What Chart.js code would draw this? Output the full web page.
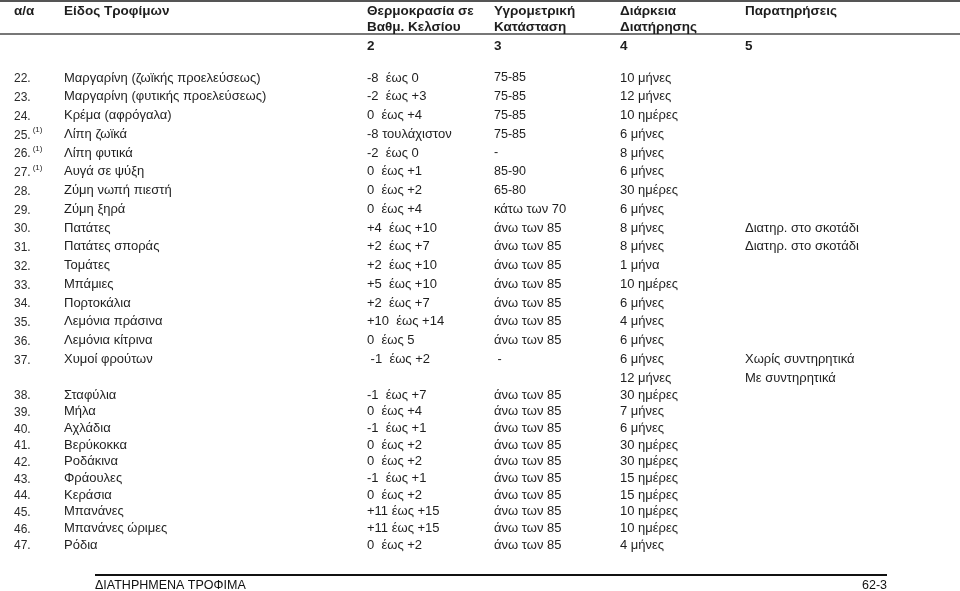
<!DOCTYPE html>
<html>
<head>
<meta charset="utf-8">
<script src="https://cdn.jsdelivr.net/npm/chart.js@4.4.1/dist/chart.umd.min.js"></script>
<style>
  html, body { margin: 0; background: #fff; }
  #wrap { width: 960px; height: 591px; }
</style>
</head>
<body>
<div id="wrap"><canvas id="table"></canvas></div>
<script>
// header texts
const headTop = ['α/α', 'Είδος Τροφίμων', 'Θερμοκρασία σε', 'Υγρομετρική', 'Διάρκεια', 'Παρατηρήσεις'];
const headBottom = ['', '', 'Βαθμ. Κελσίου', 'Κατάσταση', 'Διατήρησης', ''];
const colNumbers = ['', '', '2', '3', '4', '5'];

// table rows
const rowNums = ['22.', '23.', '24.', '25.', '26.', '27.', '28.', '29.', '30.', '31.', '32.', '33.', '34.', '35.', '36.', '37.',
  '38.', '39.', '40.', '41.', '42.', '43.', '44.', '45.', '46.', '47.'];
const rowRefs = ['', '', '', '(1)', '(1)', '(1)', '', '', '', '', '', '', '', '', '', '',
  '', '', '', '', '', '', '', '', '', ''];
const foods = ['Μαργαρίνη (ζωϊκής προελεύσεως)', 'Μαργαρίνη (φυτικής προελεύσεως)', 'Κρέμα (αφρόγαλα)', 'Λίπη ζωϊκά',
  'Λίπη φυτικά', 'Αυγά σε ψύξη', 'Ζύμη νωπή πιεστή', 'Ζύμη ξηρά', 'Πατάτες', 'Πατάτες σποράς', 'Τομάτες', 'Μπάμιες',
  'Πορτοκάλια', 'Λεμόνια πράσινα', 'Λεμόνια κίτρινα', 'Χυμοί φρούτων',
  'Σταφύλια', 'Μήλα', 'Αχλάδια', 'Βερύκοκκα', 'Ροδάκινα', 'Φράουλες', 'Κεράσια', 'Μπανάνες', 'Μπανάνες ώριμες', 'Ρόδια'];
const temps = ['-8  έως 0', '-2  έως +3', '0  έως +4', '-8 τουλάχιστον', '-2  έως 0', '0  έως +1', '0  έως +2', '0  έως +4',
  '+4  έως +10', '+2  έως +7', '+2  έως +10', '+5  έως +10', '+2  έως +7', '+10  έως +14', '0  έως 5', ' -1  έως +2',
  '-1  έως +7', '0  έως +4', '-1  έως +1', '0  έως +2', '0  έως +2', '-1  έως +1', '0  έως +2', '+11 έως +15', '+11 έως +15', '0  έως +2'];
const humidity = ['75-85', '75-85', '75-85', '75-85', '-', '85-90', '65-80', 'κάτω των 70', 'άνω των 85', 'άνω των 85',
  'άνω των 85', 'άνω των 85', 'άνω των 85', 'άνω των 85', 'άνω των 85', ' -',
  'άνω των 85', 'άνω των 85', 'άνω των 85', 'άνω των 85', 'άνω των 85', 'άνω των 85', 'άνω των 85', 'άνω των 85', 'άνω των 85', 'άνω των 85'];
const durations = ['10 μήνες', '12 μήνες', '10 ημέρες', '6 μήνες', '8 μήνες', '6 μήνες', '30 ημέρες', '6 μήνες', '8 μήνες',
  '8 μήνες', '1 μήνα', '10 ημέρες', '6 μήνες', '4 μήνες', '6 μήνες', '6 μήνες|12 μήνες',
  '30 ημέρες', '7 μήνες', '6 μήνες', '30 ημέρες', '30 ημέρες', '15 ημέρες', '15 ημέρες', '10 ημέρες', '10 ημέρες', '4 μήνες'];
const notes = ['', '', '', '', '', '', '', '', 'Διατηρ. στο σκοτάδι', 'Διατηρ. στο σκοτάδι', '', '', '', '', '', 'Χωρίς συντηρητικά|Με συντηρητικά',
  '', '', '', '', '', '', '', '', '', ''];

const footerTitle = 'ΔΙΑΤΗΡΗΜΕΝΑ ΤΡΟΦΙΜΑ';
const footerPage = '62-3';

const splitAt = 16; // rows from 38. on use the tighter second block
const colX = [14, 64, 367, 494, 620, 745];

const textColor = '#1e1e1e';
const bodyFont = '13px "Liberation Sans", Arial, sans-serif';

const tablePlugin = {
  id: 'tableText',
  afterDraw(chart) {
    const ctx = chart.ctx;
    const sx = chart.scales.x, sy = chart.scales.y, sy2 = chart.scales.y2;
    ctx.save();
    ctx.textBaseline = 'middle';

    // header rules
    ctx.fillStyle = '#555';
    ctx.fillRect(0, 0, 960, 2);
    ctx.fillStyle = '#777';
    ctx.fillRect(0, 33, 960, 2);

    ctx.fillStyle = textColor;
    ctx.font = 'bold 13.5px "Liberation Sans", Arial, sans-serif';
    headTop.forEach((t, c) => ctx.fillText(t, sx.getPixelForValue(colX[c]), 11));
    headBottom.forEach((t, c) => ctx.fillText(t, sx.getPixelForValue(colX[c]), 27));
    colNumbers.forEach((t, c) => ctx.fillText(t, sx.getPixelForValue(colX[c]), 46));

    const cell = (txt, c, line, scale, font) => {
      if (!txt) return;
      ctx.font = font || bodyFont;
      txt.split('|').forEach((part, k) => {
        ctx.fillText(part, sx.getPixelForValue(colX[c]), scale.getPixelForValue(line + k));
      });
    };

    rowNums.forEach((n, i) => {
      const scale = i < splitAt ? sy : sy2;
      const line = i < splitAt ? i : i - splitAt;
      const yPix = scale.getPixelForValue(line);
      ctx.fillStyle = '#2a2a2a';
      ctx.font = '12px "Liberation Sans", Arial, sans-serif';
      ctx.fillText(n, sx.getPixelForValue(colX[0]), yPix + 1);
      if (rowRefs[i]) {
        const w = ctx.measureText(n).width;
        ctx.font = '8px "Liberation Sans", Arial, sans-serif';
        ctx.fillText(rowRefs[i], sx.getPixelForValue(colX[0]) + w + 2, yPix - 4);
      }
      ctx.fillStyle = textColor;
      cell(foods[i], 1, line, scale);
      cell(temps[i], 2, line, scale);
      const small = /^[\d\s-]+$/.test(humidity[i]);
      cell(humidity[i], 3, line, scale, small ? '12.5px "Liberation Sans", Arial, sans-serif' : bodyFont);
      cell(durations[i], 4, line, scale);
      cell(notes[i], 5, line, scale);
    });

    // footer
    ctx.fillStyle = '#111';
    ctx.fillRect(95, 574, 792, 2);
    ctx.font = '12.5px "Liberation Sans", Arial, sans-serif';
    ctx.fillText(footerTitle, 95, 586);
    ctx.textAlign = 'right';
    ctx.fillText(footerPage, 887, 586);
    ctx.restore();
  }
};

new Chart(document.getElementById('table'), {
  type: 'scatter',
  data: { datasets: [{ data: [] }] },
  options: {
    responsive: true,
    maintainAspectRatio: false,
    animation: false,
    layout: { padding: 0 },
    plugins: { legend: { display: false }, tooltip: { enabled: false } },
    scales: {
      x: { type: 'linear', min: 0, max: 960, display: false },
      // first block: 18.75 px per line starting at 78px
      y: { type: 'linear', reverse: true, min: -78 / 18.75, max: (591 - 78) / 18.75, display: false },
      // second block: 16.67 px per line starting at 395px
      y2: { type: 'linear', reverse: true, min: -395 / 16.667, max: (591 - 395) / 16.667, display: false }
    }
  },
  plugins: [tablePlugin]
});
</script>
</body>
</html>
